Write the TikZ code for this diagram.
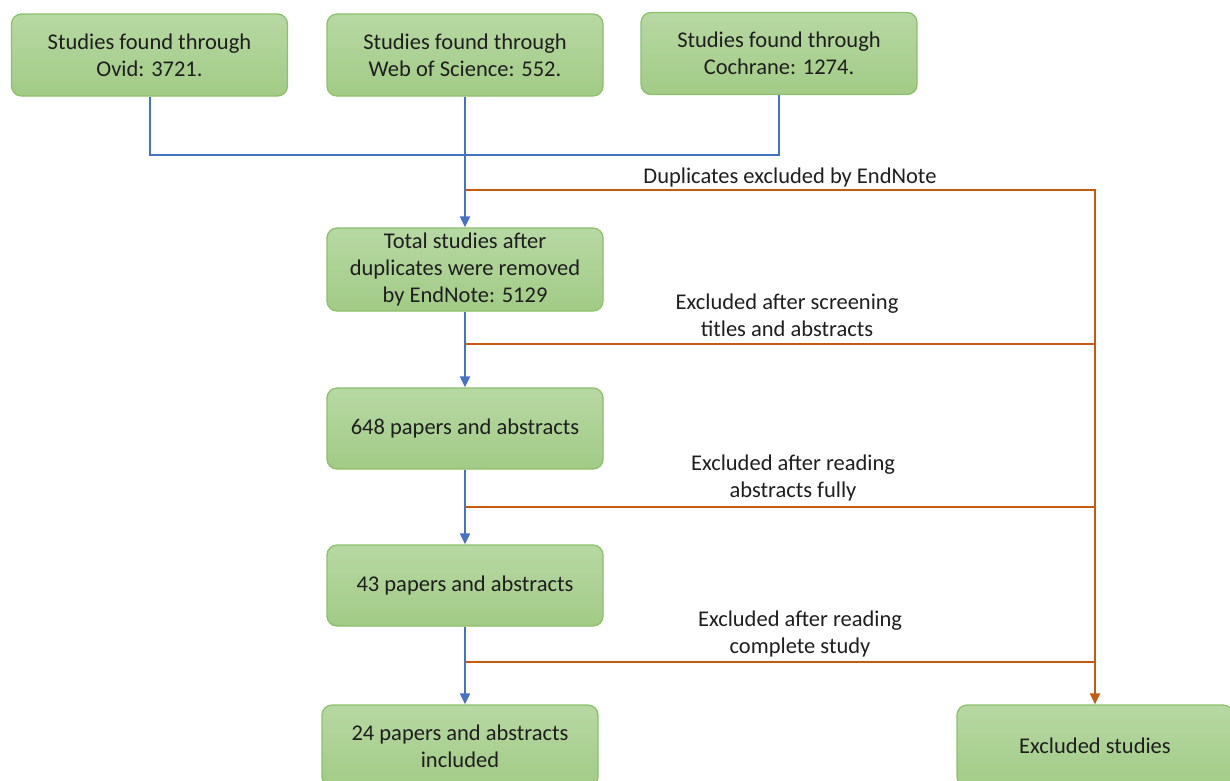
\documentclass[tikz,border=0pt]{standalone}
\usepackage{fontspec}
\setmainfont{Carlito}
\usetikzlibrary{arrows.meta}
\definecolor{boxtop}{HTML}{B7D8A3}
\definecolor{boxbot}{HTML}{A2CB86}
\definecolor{boxline}{HTML}{8DC06A}
\definecolor{blueln}{HTML}{4472C4}
\definecolor{orangeln}{HTML}{C55A11}
\definecolor{txt}{HTML}{1E1E1E}
\begin{document}
\begin{tikzpicture}[x=1pt,y=-1pt,
  box/.style={draw=boxline, line width=1.3pt, rounded corners=10pt,
    top color=boxtop, bottom color=boxbot, minimum width=276pt,
    minimum height=82pt, align=center, text=txt, inner sep=2pt,
    font=\fontsize{22.5}{27}\selectfont},
  lbl/.style={align=center, text=txt, inner sep=0pt, font=\fontsize{22.5}{27}\selectfont},
  bl/.style={draw=blueln, line width=2pt},
  ol/.style={draw=orangeln, line width=2pt},
  tip/.style={-{Triangle[length=11pt,width=10pt]}}]
\useasboundingbox (0,0) rectangle (1230,780);
\node[box] (ovid) at (149.5,55) {Studies found through\\Ovid: 3721.};
\node[box] (wos) at (465,55) {Studies found through\\Web of Science: 552.};
\node[box] (coch) at (779,53.5) {Studies found through\\Cochrane: 1274.};
\node[box, minimum height=83pt] (total) at (465,269.5) {Total studies after\\duplicates were removed\\by EndNote: 5129};
\node[box, minimum height=81pt] (p648) at (465,428.5) {648 papers and abstracts};
\node[box, minimum height=81pt] (p43) at (465,585.5) {43 papers and abstracts};
\node[box] (p24) at (460,746) {24 papers and abstracts\\included};
\node[box] (excl) at (1095,746) {Excluded studies};

\coordinate (j1) at (465,155);
\coordinate (o1) at (465,190);
\coordinate (o2) at (465,344);
\coordinate (o3) at (465,507);
\coordinate (o4) at (465,662);

\draw[bl] (ovid.south) |- (j1) -| (coch.south);
\draw[bl, tip] (wos.south) -- (total.north);
\draw[bl, tip] (total.south) -- (p648.north);
\draw[bl, tip] (p648.south) -- (p43.north);
\draw[bl, tip] (p43.south) -- (p43.south |- p24.north);

\draw[ol, tip] (o1) -| (excl.north);
\draw[ol] (o2) -- (o2 -| excl.north);
\draw[ol] (o3) -- (o3 -| excl.north);
\draw[ol] (o4) -- (o4 -| excl.north);

\node[lbl] (l1) at (790,177) {Duplicates excluded by EndNote};
\node[lbl] (l2) at (787,315.5) {Excluded after screening\\titles and abstracts};
\node[lbl] (l3) at (793,477.5) {Excluded after reading\\abstracts fully};
\node[lbl] (l4) at (800,633.5) {Excluded after reading\\complete study};
\end{tikzpicture}
\end{document}
